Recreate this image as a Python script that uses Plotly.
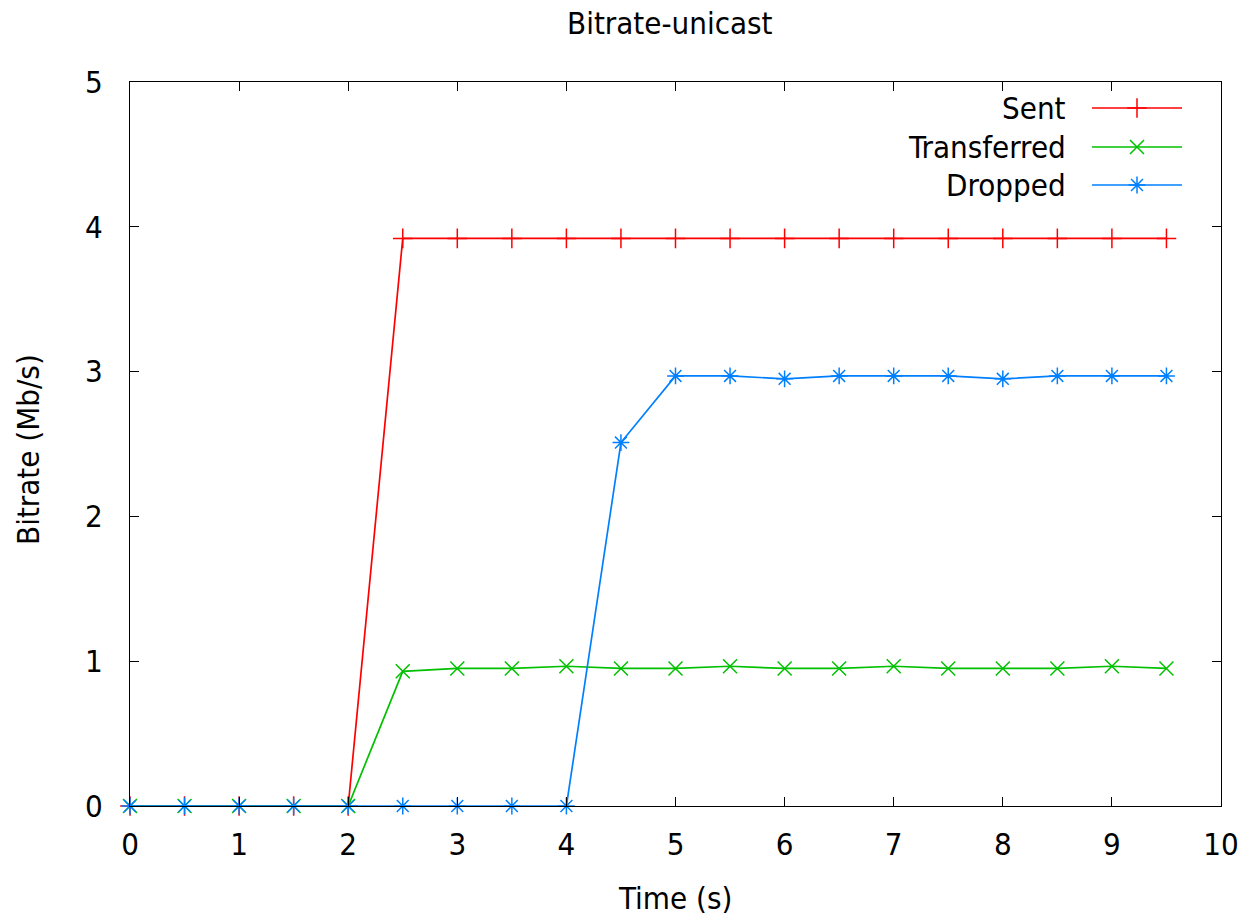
import plotly.graph_objects as go

time_s = [0, 0.5, 1, 1.5, 2, 2.5, 3, 3.5, 4, 4.5, 5, 5.5, 6, 6.5, 7, 7.5, 8, 8.5, 9, 9.5]
sent = [0, 0, 0, 0, 0, 3.92, 3.92, 3.92, 3.92, 3.92, 3.92, 3.92, 3.92, 3.92, 3.92, 3.92, 3.92, 3.92, 3.92, 3.92]
transferred = [0, 0, 0, 0, 0, 0.93, 0.95, 0.95, 0.965, 0.95, 0.95, 0.965, 0.95, 0.95, 0.965, 0.95, 0.95, 0.95, 0.965, 0.95]
dropped = [0, 0, 0, 0, 0, 0, 0, 0, 0, 2.51, 2.97, 2.97, 2.95, 2.97, 2.97, 2.97, 2.95, 2.97, 2.97, 2.97]

series_names = ["Sent", "Transferred", "Dropped"]
series_values = [sent, transferred, dropped]
colors = ["#ff0000", "#00c000", "#0080ff"]
symbols = ["cross-thin", "x-thin", "asterisk"]

FONT = "DejaVu Sans Condensed, DejaVu Sans, sans-serif"
FS = 31
W, H = 1254, 918
# reference pixel frame of plot area
PX0, PX1, PY0, PY1 = 130, 1221, 82, 806
ML, MR, MT, MB = PX0, W - PX1, PY0, H - PY1


def px(xp):
    return (xp - PX0) / (PX1 - PX0)


def py(yp):
    return 1 - (yp - PY0) / (PY1 - PY0)


fig = go.Figure()
for name, vals, col, sym in zip(series_names, series_values, colors, symbols):
    fig.add_trace(go.Scatter(
        x=time_s, y=vals, name=name, mode="lines+markers",
        line=dict(color=col, width=1.7),
        marker=dict(symbol=sym, size=14, color=col, line=dict(color=col, width=1.5)),
        cliponaxis=False, showlegend=False,
    ))

# custom gnuplot-style legend (text right-aligned, then sample line + marker)
leg_rows = [py(108), py(147), py(185)]
for name, col, sym, ry in zip(series_names, colors, symbols, leg_rows):
    fig.add_annotation(x=px(1068), y=ry, xref="paper", yref="paper",
                       text=name, showarrow=False, xanchor="right", yanchor="middle",
                       font=dict(family=FONT, size=FS, color="#000000"))
    fig.add_shape(type="line", xref="paper", yref="paper",
                  x0=px(1092), x1=px(1182), y0=ry, y1=ry,
                  line=dict(color=col, width=1.7))
    fig.add_trace(go.Scatter(
        x=[px(1137)], y=[ry], xaxis="x2", yaxis="y2", mode="markers",
        marker=dict(symbol=sym, size=14, color=col, line=dict(color=col, width=1.5)),
        showlegend=False, hoverinfo="skip", cliponaxis=False,
    ))

# titles
fig.add_annotation(x=px(670), y=py(23), xref="paper", yref="paper", text="Bitrate-unicast",
                   showarrow=False, xanchor="center", yanchor="middle",
                   font=dict(family=FONT, size=FS, color="#000000"))
fig.add_annotation(x=px(675), y=py(898), xref="paper", yref="paper", text="Time (s)",
                   showarrow=False, xanchor="center", yanchor="middle",
                   font=dict(family=FONT, size=FS, color="#000000"))
fig.add_annotation(x=px(28), y=py(450), xref="paper", yref="paper", text="Bitrate (Mb/s)",
                   showarrow=False, xanchor="center", yanchor="middle", textangle=-90,
                   font=dict(family=FONT, size=FS, color="#000000"))

axis_common = dict(
    showline=True, linecolor="#000000", linewidth=1.2, mirror="ticks",
    ticks="inside", ticklen=9, tickwidth=1.2, tickcolor="#000000",
    showgrid=False, zeroline=False,
    tickfont=dict(family=FONT, size=FS, color="#000000"),
)

fig.update_layout(
    width=W, height=H,
    margin=dict(l=ML, r=MR, t=MT, b=MB),
    paper_bgcolor="white", plot_bgcolor="white",
    xaxis=dict(range=[0, 10], dtick=1, tick0=0, ticklabelstandoff=11, **axis_common),
    yaxis=dict(range=[0, 5], dtick=1, tick0=0, ticklabelstandoff=20, **axis_common),
    xaxis2=dict(range=[0, 1], overlaying="x", visible=False, fixedrange=True),
    yaxis2=dict(range=[0, 1], overlaying="y", visible=False, fixedrange=True),
)

fig.write_html(
    "out.html",
    config={"displayModeBar": False},
    post_script="document.body.style.margin='0';document.body.style.overflow='hidden';",
)
